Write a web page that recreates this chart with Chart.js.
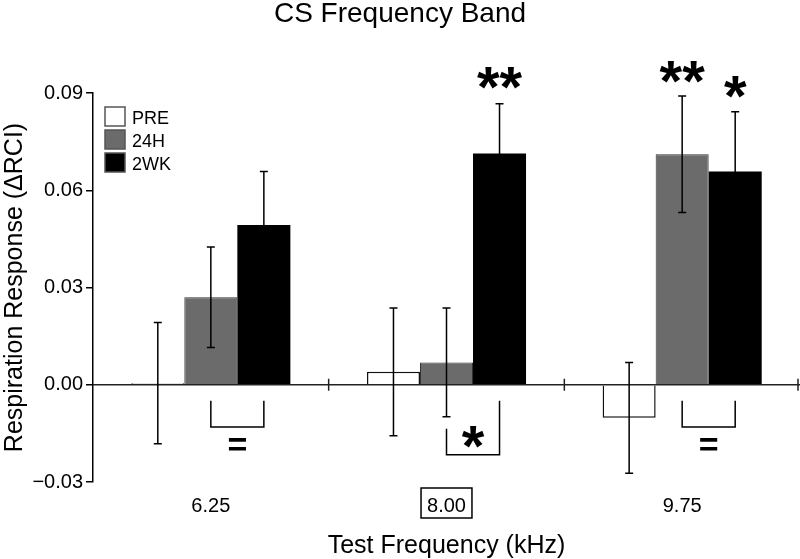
<!DOCTYPE html>
<html lang="en">
<head>
<meta charset="UTF-8">
<title>CS Frequency Band</title>
<script src="https://cdn.jsdelivr.net/npm/chart.js"></script>
<style>
  html, body { margin: 0; padding: 0; background: #fff; }
  #wrap { width: 800px; height: 559px; }
</style>
</head>
<body>
<div id="wrap"><canvas id="grafico"></canvas></div>
<script>
    // data
    var categories = ['6.25', '8.00', '9.75'];
    var pre = [0.0005, 0.004, -0.0102];
    var preErr = [0.0187, 0.0197, 0.0171];
    var h24 = [0.027, 0.0069, 0.0711];
    var h24Err = [0.0155, 0.0168, 0.018];
    var wk2 = [0.0493, 0.0713, 0.0658];
    var wk2Err = [0.0165, 0.0154, 0.0184];
    var yTicks = [-0.03, 0.00, 0.03, 0.06, 0.09];

    // significance marks above bars: category, bar index, text, value
    var stars = [
        { cat: 1, bar: 2, text: '**', y: 0.0945 },
        { cat: 2, bar: 1, text: '**', y: 0.0965 },
        { cat: 2, bar: 2, text: '*', y: 0.0918 }
    ];
    // brackets under the bars between 24H and 2WK
    var brackets = [
        { cat: 0, from: 1, to: 2, left: -0.0049, right: -0.0049, bottom: -0.013, text: '=', textY: -0.0185 },
        { cat: 1, from: 1, to: 2, left: -0.0136, right: -0.0049, bottom: -0.0216, text: '*', textY: -0.0162 },
        { cat: 2, from: 1, to: 2, left: -0.0049, right: -0.0049, bottom: -0.013, text: '=', textY: -0.0185 }
    ];
    var boxedCategory = 1;

    var errors = [preErr, h24Err, wk2Err];
    var FONT = "'Liberation Sans', Arial, Helvetica, sans-serif";
    Chart.defaults.font.family = FONT;
    Chart.defaults.color = '#000';

    function drawCentered(ctx, text, x, cy) {
        var m = ctx.measureText(text);
        var base = cy + (m.actualBoundingBoxAscent - m.actualBoundingBoxDescent) / 2;
        ctx.fillText(text, x, base);
    }

    var extras = {
        id: 'extras',
        afterDatasetsDraw: function (chart) {
            var ctx = chart.ctx;
            var x = chart.scales.x, y = chart.scales.y;
            var area = chart.chartArea;
            var y0 = y.getPixelForValue(0);
            ctx.save();

            // zero line with category separators
            ctx.strokeStyle = '#222';
            ctx.lineWidth = 1.5;
            ctx.beginPath();
            ctx.moveTo(area.left, y0);
            ctx.lineTo(area.right, y0);
            for (var i = 0; i < categories.length; i++) {
                var bx = Math.min(x.getPixelForValue(i + 0.5), area.right - 2);
                ctx.moveTo(bx, y0 - 6);
                ctx.lineTo(bx, y0 + 6);
            }
            ctx.stroke();

            // error bars
            ctx.strokeStyle = '#000';
            ctx.lineWidth = 1.5;
            chart.data.datasets.forEach(function (ds, d) {
                var meta = chart.getDatasetMeta(d);
                meta.data.forEach(function (bar, i) {
                    var v = ds.data[i], e = errors[d][i];
                    var top = y.getPixelForValue(v + e), bot = y.getPixelForValue(v - e);
                    ctx.beginPath();
                    ctx.moveTo(bar.x, top); ctx.lineTo(bar.x, bot);
                    ctx.moveTo(bar.x - 4, top); ctx.lineTo(bar.x + 4, top);
                    ctx.moveTo(bar.x - 4, bot); ctx.lineTo(bar.x + 4, bot);
                    ctx.stroke();
                });
            });

            // brackets
            ctx.fillStyle = '#000';
            ctx.textAlign = 'center';
            brackets.forEach(function (b) {
                var xa = chart.getDatasetMeta(b.from).data[b.cat].x;
                var xb = chart.getDatasetMeta(b.to).data[b.cat].x;
                ctx.lineWidth = 1.5;
                ctx.beginPath();
                ctx.moveTo(xa, y.getPixelForValue(b.left));
                ctx.lineTo(xa, y.getPixelForValue(b.bottom));
                ctx.lineTo(xb, y.getPixelForValue(b.bottom));
                ctx.lineTo(xb, y.getPixelForValue(b.right));
                ctx.stroke();
                ctx.font = b.text === '=' ? 'bold 34px ' + FONT : 'bold 58px ' + FONT;
                drawCentered(ctx, b.text, (xa + xb) / 2, y.getPixelForValue(b.textY));
            });

            // stars
            ctx.font = 'bold 58px ' + FONT;
            stars.forEach(function (s) {
                var bar = chart.getDatasetMeta(s.bar).data[s.cat];
                drawCentered(ctx, s.text, bar.x, y.getPixelForValue(s.y));
            });

            // boxed tick label
            ctx.font = '20px ' + FONT;
            var lx = x.getPixelForValue(boxedCategory);
            var w = ctx.measureText(categories[boxedCategory]).width + 12;
            ctx.lineWidth = 1.5;
            ctx.strokeRect(lx - w / 2, 488, w, 30);

            // legend
            var lefts = 105, tops = 107;
            ctx.font = '18px ' + FONT;
            ctx.textAlign = 'left';
            chart.data.datasets.forEach(function (ds, d) {
                var ty = tops + d * 23;
                ctx.fillStyle = ds.backgroundColor;
                ctx.fillRect(lefts, ty, 20, 19);
                ctx.strokeStyle = '#555';
                ctx.lineWidth = 1.5;
                ctx.strokeRect(lefts, ty, 20, 19);
                ctx.fillStyle = '#000';
                drawCentered(ctx, ds.label, 132, ty + 10);
            });
            ctx.restore();
        }
    };

    var grafico = new Chart(document.getElementById('grafico').getContext('2d'), {
        type: 'bar',
        data: {
            labels: categories,
            datasets: [{
                label: 'PRE',
                data: pre,
                backgroundColor: '#ffffff',
                borderColor: '#111',
                borderWidth: 1.5
            },
            {
                label: '24H',
                data: h24,
                backgroundColor: '#6b6b6b',
                borderColor: '#333',
                borderWidth: 1
            },
            {
                label: '2WK',
                data: wk2,
                backgroundColor: '#000000',
                borderColor: '#000',
                borderWidth: 0
            }]
        },
        options: {
            responsive: true,
            maintainAspectRatio: false,
            animation: false,
            categoryPercentage: 0.675,
            barPercentage: 1.0,
            layout: { padding: 0 },
            plugins: {
                legend: { display: false },
                tooltip: { enabled: false },
                title: {
                    display: true,
                    text: 'CS Frequency Band',
                    color: '#000',
                    font: { size: 28, weight: 'normal', lineHeight: 1 },
                    padding: { top: 0, bottom: 65 }
                }
            },
            scales: {
                y: {
                    min: -0.03,
                    max: 0.09,
                    afterFit: function (s) { s.width = 93; },
                    afterBuildTicks: function (s) { s.ticks = yTicks.map(function (v) { return { value: v }; }); },
                    ticks: {
                        font: { size: 20 },
                        padding: 3,
                        callback: function (v) { return (v < 0 ? '\u2212' : '') + Math.abs(v).toFixed(2); }
                    },
                    grid: { drawOnChartArea: false, tickLength: 7, color: '#000', lineWidth: 1.5 },
                    border: { display: true, color: '#000', width: 1.5 },
                    title: {
                        display: true,
                        text: 'Respiration Response (\u0394RCI)',
                        font: { size: 25, lineHeight: 1.2 },
                        padding: { top: 0, bottom: 0 }
                    }
                },
                x: {
                    afterFit: function (s) { s.height = 77; },
                    ticks: { font: { size: 20 }, padding: 12 },
                    grid: { display: false, drawTicks: false },
                    border: { display: false },
                    title: {
                        display: true,
                        text: 'Test Frequency (kHz)',
                        font: { size: 25, lineHeight: 1 },
                        padding: { top: 0, bottom: 0 }
                    }
                }
            }
        },
        plugins: [extras]
    });
</script>
</body>
</html>
